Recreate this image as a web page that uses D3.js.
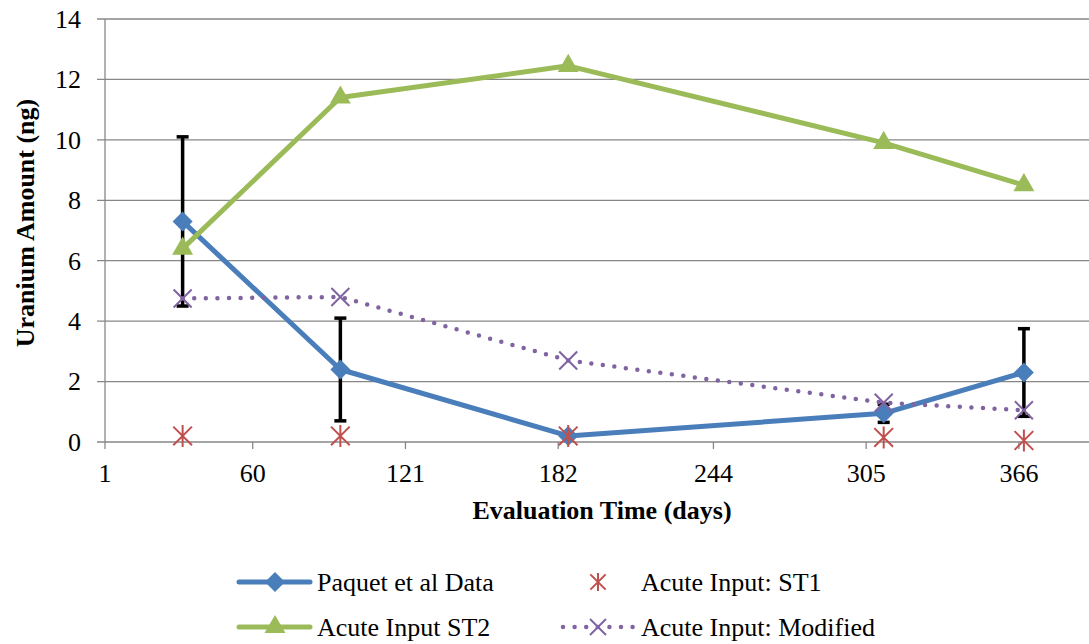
<!DOCTYPE html>
<html lang="en">
<head>
    <meta charset="UTF-8">
    <title>Uranium Amount vs Evaluation Time</title>
    <script src="https://d3js.org/d3.v7.min.js"></script>
    <style>
        body {
            margin: 0;
            background-color: #ffffff;
        }

        svg {
            display: block;
        }

        svg text {
            font-family: "Liberation Serif", "Times New Roman", "DejaVu Serif", serif;
        }

        .grid line {
            stroke: #878787;
            stroke-width: 1.3;
        }

        .axis text {
            font-size: 26px;
            fill: #000;
        }
    </style>
</head>
<body>

<svg width="1089" height="644"></svg>

<script>
    // evaluation days of each measurement
    const days = [32, 95, 186, 312, 368];
    const paquet = [7.3, 2.4, 0.2, 0.95, 2.3];
    const paquetErr = [2.8, 1.7, 0, 0.3, 1.45];
    const st1 = [0.2, 0.2, 0.2, 0.15, 0.05];
    const st2 = [6.4, 11.4, 12.45, 9.9, 8.5];
    const modified = [4.75, 4.8, 2.7, 1.3, 1.05];

    const xTicks = [1, 60, 121, 182, 244, 305, 366];
    const yTicks = [0, 2, 4, 6, 8, 10, 12, 14];

    const svgWidth = 1089;
    const svgHeight = 644;
    const margin = {top: 19, right: 0, bottom: 202, left: 105};
    const width = svgWidth - margin.left - margin.right;
    const height = svgHeight - margin.top - margin.bottom;
    const serif = "'Liberation Serif', 'Times New Roman', 'DejaVu Serif', serif";

    const colors = {
        paquet: "#4a7ebb",
        st1: "#c0504d",
        st2: "#9bbb59",
        modified: "#8064a2"
    };

    const svg = d3.select("svg")
        .attr("font-family", serif);
    const g = svg.append("g")
        .attr("transform", `translate(${margin.left}, ${margin.top})`);

    const xScale = d3.scaleLinear()
        .domain([1, 394])
        .range([0, width]);

    const yScale = d3.scaleLinear()
        .domain([0, 14])
        .range([height, 0]);

    // horizontal gridlines
    g.append("g")
        .attr("class", "grid")
        .selectAll("line")
        .data(yTicks)
        .join("line")
        .attr("x1", -8)
        .attr("x2", width)
        .attr("y1", d => yScale(d))
        .attr("y2", d => yScale(d));

    // y axis line
    g.append("line")
        .attr("x1", 0).attr("x2", 0)
        .attr("y1", 0).attr("y2", height)
        .attr("stroke", "#878787")
        .attr("stroke-width", 1.3);

    // x axis ticks
    g.append("g")
        .attr("class", "grid")
        .selectAll("line")
        .data(xTicks)
        .join("line")
        .attr("x1", d => xScale(d))
        .attr("x2", d => xScale(d))
        .attr("y1", height)
        .attr("y2", height + 7);

    // tick labels
    g.append("g")
        .attr("class", "axis")
        .selectAll("text")
        .data(yTicks)
        .join("text")
        .attr("x", -24)
        .attr("y", d => yScale(d))
        .attr("dy", "0.34em")
        .attr("text-anchor", "end")
        .attr("font-family", serif)
        .text(d => d);

    g.append("g")
        .attr("class", "axis")
        .selectAll("text")
        .data(xTicks)
        .join("text")
        .attr("x", d => xScale(d))
        .attr("y", height + 40)
        .attr("text-anchor", "middle")
        .attr("font-family", serif)
        .text(d => d);

    // axis titles
    svg.append("text")
        .attr("x", 602)
        .attr("y", 519)
        .attr("text-anchor", "middle")
        .attr("font-family", serif)
        .attr("font-size", "26px")
        .attr("font-weight", "bold")
        .text("Evaluation Time (days)");

    svg.append("text")
        .attr("transform", "translate(34, 223) rotate(-90)")
        .attr("text-anchor", "middle")
        .attr("font-family", serif)
        .attr("font-size", "26px")
        .attr("font-weight", "bold")
        .text("Uranium Amount (ng)");

    // marker shapes
    const diamond = d3.symbol(d3.symbolSquare, 200);
    const triangle = d3.symbol(d3.symbolTriangle, 190);

    function crossPath(r) {
        return `M${-r},${-r}L${r},${r}M${-r},${r}L${r},${-r}`;
    }

    function starPath(r) {
        return crossPath(r * 0.85) + `M0,${-r}L0,${r}`;
    }

    const line = d3.line()
        .x(d => xScale(d[0]))
        .y(d => yScale(d[1]));

    // error bars of the Paquet data
    const errG = g.append("g");
    days.forEach((day, i) => {
        if (paquetErr[i] === 0) return;
        const x = xScale(day);
        const y1 = yScale(paquet[i] + paquetErr[i]);
        const y0 = yScale(paquet[i] - paquetErr[i]);
        errG.append("line")
            .attr("x1", x).attr("x2", x)
            .attr("y1", y1).attr("y2", y0)
            .attr("stroke", "#000").attr("stroke-width", 3.5);
        [y1, y0].forEach(y => {
            errG.append("line")
                .attr("x1", x - 6).attr("x2", x + 6)
                .attr("y1", y).attr("y2", y)
                .attr("stroke", "#000").attr("stroke-width", 3.5);
        });
    });

    // Paquet et al Data
    const paquetPts = d3.zip(days, paquet);
    g.append("path")
        .datum(paquetPts)
        .attr("d", line)
        .attr("fill", "none")
        .attr("stroke", colors.paquet)
        .attr("stroke-width", 5)
        .attr("stroke-linejoin", "round");

    g.selectAll(".paquet-marker")
        .data(paquetPts)
        .join("path")
        .attr("class", "paquet-marker")
        .attr("d", diamond)
        .attr("transform", d => `translate(${xScale(d[0])}, ${yScale(d[1])}) rotate(45)`)
        .attr("fill", colors.paquet);

    // Acute Input: ST1 (markers only)
    g.selectAll(".st1-marker")
        .data(d3.zip(days, st1))
        .join("path")
        .attr("class", "st1-marker")
        .attr("d", starPath(11))
        .attr("transform", d => `translate(${xScale(d[0])}, ${yScale(d[1])})`)
        .attr("fill", "none")
        .attr("stroke", colors.st1)
        .attr("stroke-width", 2);

    // Acute Input ST2
    const st2Pts = d3.zip(days, st2);
    g.append("path")
        .datum(st2Pts)
        .attr("d", line)
        .attr("fill", "none")
        .attr("stroke", colors.st2)
        .attr("stroke-width", 5)
        .attr("stroke-linejoin", "round");

    g.selectAll(".st2-marker")
        .data(st2Pts)
        .join("path")
        .attr("class", "st2-marker")
        .attr("d", triangle)
        .attr("transform", d => `translate(${xScale(d[0])}, ${yScale(d[1])})`)
        .attr("fill", colors.st2);

    // Acute Input: Modified
    const modPts = d3.zip(days, modified);
    g.append("path")
        .datum(modPts)
        .attr("d", line)
        .attr("fill", "none")
        .attr("stroke", colors.modified)
        .attr("stroke-width", 4.5)
        .attr("stroke-linecap", "round")
        .attr("stroke-dasharray", "0 11.6");

    g.selectAll(".mod-marker")
        .data(modPts)
        .join("path")
        .attr("class", "mod-marker")
        .attr("d", crossPath(9))
        .attr("transform", d => `translate(${xScale(d[0])}, ${yScale(d[1])})`)
        .attr("fill", "none")
        .attr("stroke", colors.modified)
        .attr("stroke-width", 2);

    // legend
    const legend = svg.append("g");
    const legendItems = [
        {name: "Paquet et al Data", x: 239, y: 582, key: "paquet"},
        {name: "Acute Input: ST1", x: 563, y: 582, key: "st1"},
        {name: "Acute Input ST2", x: 239, y: 627, key: "st2"},
        {name: "Acute Input: Modified", x: 563, y: 627, key: "modified"}
    ];

    legendItems.forEach(item => {
        const lg = legend.append("g");
        const cx = item.key === "paquet" || item.key === "st2" ? item.x + 36 : item.x + 35;
        if (item.key === "paquet" || item.key === "st2") {
            lg.append("line")
                .attr("x1", item.x).attr("x2", item.x + 71)
                .attr("y1", item.y).attr("y2", item.y)
                .attr("stroke", colors[item.key])
                .attr("stroke-width", 5)
                .attr("stroke-linecap", "round");
        }
        if (item.key === "modified") {
            lg.append("line")
                .attr("x1", item.x).attr("x2", item.x + 70)
                .attr("y1", item.y).attr("y2", item.y)
                .attr("stroke", colors.modified)
                .attr("stroke-width", 4.5)
                .attr("stroke-linecap", "round")
                .attr("stroke-dasharray", "0 11.6");
        }
        const m = lg.append("path")
            .attr("transform", `translate(${cx}, ${item.y})`);
        if (item.key === "paquet") {
            m.attr("d", diamond).attr("fill", colors.paquet)
                .attr("transform", `translate(${cx}, ${item.y}) rotate(45)`);
        } else if (item.key === "st2") {
            m.attr("d", triangle).attr("fill", colors.st2);
        } else if (item.key === "st1") {
            m.attr("d", starPath(9)).attr("fill", "none")
                .attr("stroke", colors.st1).attr("stroke-width", 2);
        } else {
            m.attr("d", crossPath(8)).attr("fill", "none")
                .attr("stroke", colors.modified).attr("stroke-width", 2);
        }
        lg.append("text")
            .attr("x", item.x + 78)
            .attr("y", item.y)
            .attr("dy", "0.34em")
            .attr("font-family", serif)
            .attr("font-size", "26px")
            .text(item.name);
    });
</script>

</body>
</html>
